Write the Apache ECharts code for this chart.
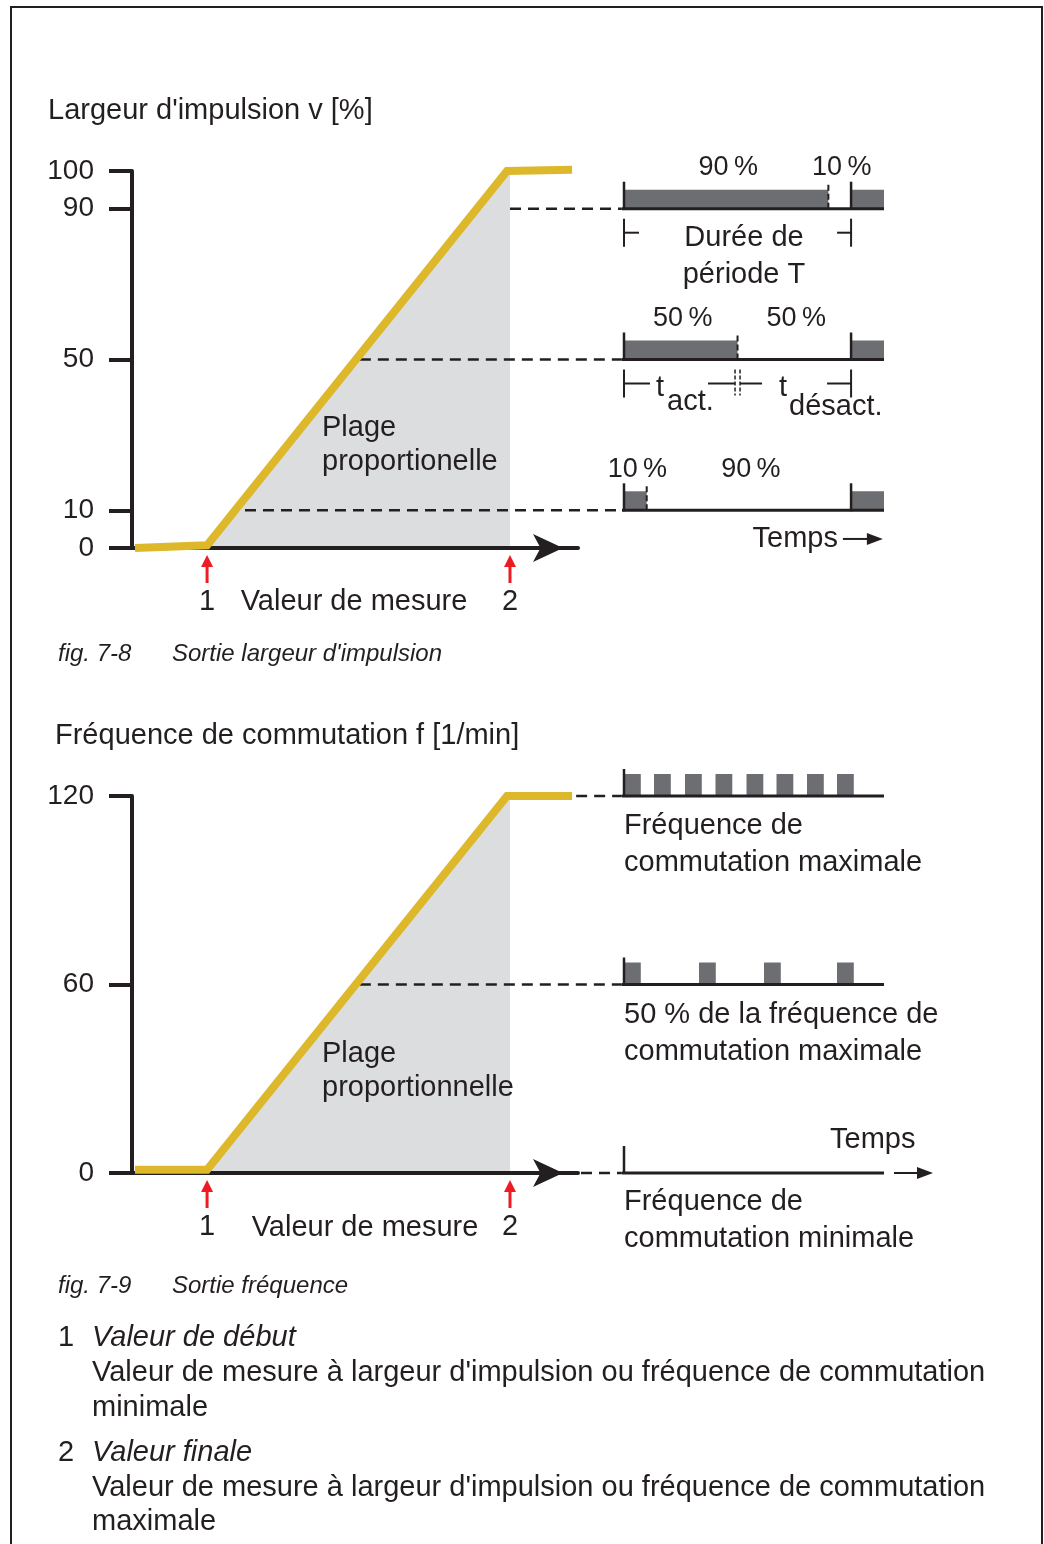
<!DOCTYPE html>
<html>
<head>
<meta charset="utf-8">
<title>Sortie largeur d'impulsion / Sortie fréquence</title>
<script src="https://cdn.jsdelivr.net/npm/echarts@6/dist/echarts.min.js"></script>
<style>
  html, body { margin: 0; padding: 0; background: #fff; }
  #chart { width: 1044px; height: 1544px; }
</style>
</head>
<body>
<div id="chart"></div>
<script>
// ---------- fig. 7-8 : largeur d'impulsion ----------
const pwmTicks = [0, 10, 50, 90, 100];
const pwmCurveX = [0.08, 2.02, 10.09, 11.84];
const pwmCurveY = [0, 0.7, 100, 100.3];
const pwmMarkX = [2.02, 10.17];            // 1 = valeur de début, 2 = valeur finale
const pwmGuideFrom = [10.17, 6.13, 3.04];
const pwmGuideLevel = [90, 50, 10];
const pwmLevels = [90, 50, 10];
const pwmDuty = [9, 5, 1];                 // fin de t_act. (période = 10)
const pwmPeriod = 10;
const pwmTimeMax = 11.45;
const pwmOnLabels = ['90\u2009%', '50\u2009%', '10\u2009%'];
const pwmOffLabels = ['10\u2009%', '50\u2009%', '90\u2009%'];
const pwmTimeArrow = [9.64, 11.4, 2.4];

// ---------- fig. 7-9 : fréquence ----------
const freqTicks = [0, 60, 120];
const freqCurveX = [0.08, 2.02, 10.09, 11.84];
const freqCurveY = [1, 1, 120, 120];
const freqMarkX = [2.02, 10.17];
const freqGuideFrom = [11.95, 6.13, 12.08];
const freqGuideLevel = [120, 60, 0];
const freqLevels = [120, 60, 0];
const freqPulseStarts = [
  [0, 3.0, 6.1, 9.15, 12.25, 15.25, 18.3, 21.3],
  [0, 7.5, 14.0, 21.3],
  []
];
const freqPulseWidth = 1.68;
const freqTimeMax = 26;
const freqTimeArrow = [27.0, 30.9, 0];

const guideEnd = 13.18;   // where the dashed guides meet the pulse diagrams

// ---------- styles ----------
const FONT = "'Liberation Sans', Arial, Helvetica, sans-serif";
const INK = '#231F20';
const GOLD = '#DDB82A';
const SHADE = '#DCDDDF';
const PULSE = '#6D6E71';
const RED = '#ED1C24';
const TEXT_DY = 2;

function seg(x1, y1, x2, y2, w, dash) {
  return { type: 'line', shape: { x1, y1, x2, y2 }, style: { stroke: INK, lineWidth: w, lineDash: dash || null } };
}

function label(text, x, y, size, align, italic) {
  return {
    type: 'text', x, y: y + TEXT_DY, z: 100,
    style: {
      text, fill: INK,
      font: (italic ? 'italic ' : '') + size + 'px ' + FONT,
      align: align || 'left', textAlign: align || 'left',
      verticalAlign: 'middle', textVerticalAlign: 'middle'
    }
  };
}

function renderGuide(params, api) {
  const a = api.coord([api.value(0), api.value(2)]);
  const b = api.coord([api.value(1), api.value(2)]);
  return seg(a[0], a[1], b[0], b[1], 2.5, [11, 7]);
}

function renderMarker(params, api) {
  const p = api.coord([api.value(0), 0]);
  return {
    type: 'group',
    children: [
      { type: 'line', shape: { x1: p[0], y1: p[1] + 17, x2: p[0], y2: p[1] + 35 }, style: { stroke: RED, lineWidth: 3 } },
      { type: 'polygon', shape: { points: [[p[0], p[1] + 7], [p[0] - 6, p[1] + 19], [p[0] + 6, p[1] + 19]] }, style: { fill: RED } }
    ]
  };
}

function renderPwmRow(params, api) {
  const i = params.dataIndex;
  const level = api.value(0);
  const duty = api.value(1);
  const p0 = api.coord([0, level]);
  const pOff = api.coord([duty, level]);
  const pPer = api.coord([pwmPeriod, level]);
  const pEnd = api.coord([pwmTimeMax, level]);
  const y = p0[1];
  const h = 19;
  return {
    type: 'group',
    children: [
      { type: 'rect', shape: { x: p0[0], y: y - h, width: pOff[0] - p0[0], height: h }, style: { fill: PULSE } },
      { type: 'rect', shape: { x: pPer[0], y: y - h, width: pEnd[0] - pPer[0], height: h }, style: { fill: PULSE } },
      seg(p0[0] - 2, y, pEnd[0], y, 3),
      seg(p0[0], y + 1, p0[0], y - 27, 2.5),
      seg(pOff[0], y, pOff[0], y - 27, 2, [6, 3]),
      seg(pPer[0], y + 1, pPer[0], y - 27, 2.5),
      label(pwmOnLabels[i], (p0[0] + pOff[0]) / 2 + 2, y - 43, 27, 'center'),
      label(pwmOffLabels[i], (pOff[0] + pPer[0]) / 2 + 2, y - 43, 27, 'center')
    ]
  };
}

const pwmBrackets = [
  [0, pwmPeriod, pwmLevels[0]],
  [0, pwmDuty[1], pwmLevels[1]],
  [pwmDuty[1], pwmPeriod, pwmLevels[1]]
];
const bracketStubs = [[15, 14], [26, 27], [22, 24]];
const bracketEnds = [['solid', 'solid'], ['solid', 'split'], ['split', 'solid']];

function renderBracket(params, api) {
  const i = params.dataIndex;
  const a = api.coord([api.value(0), api.value(2)]);
  const b = api.coord([api.value(1), api.value(2)]);
  const y = a[1] + 24;
  const ends = bracketEnds[i];
  const stubs = bracketStubs[i];
  let xa = a[0];
  let xb = b[0];
  if (ends[0] === 'split') xa += 2.5;
  if (ends[1] === 'split') xb -= 2.5;
  const tick = (x, kind) => kind === 'split'
    ? seg(x, y - 14, x, y + 12, 1.5, [4, 2])
    : seg(x, y - 14, x, y + 14, 2);
  return {
    type: 'group',
    children: [
      tick(xa, ends[0]), tick(xb, ends[1]),
      seg(xa, y, xa + stubs[0], y, 2),
      seg(xb - stubs[1], y, xb, y, 2)
    ]
  };
}

function renderFreqRow(params, api) {
  const level = api.value(0);
  const starts = freqPulseStarts[params.dataIndex];
  const p0 = api.coord([0, level]);
  const pEnd = api.coord([freqTimeMax, level]);
  const y = p0[1];
  const h = 22;
  const children = starts.map(s => {
    const a = api.coord([s, level]);
    const b = api.coord([s + freqPulseWidth, level]);
    return { type: 'rect', shape: { x: a[0], y: y - h, width: b[0] - a[0], height: h }, style: { fill: PULSE } };
  });
  children.push(seg(p0[0] - 2, y, pEnd[0], y, 3));
  children.push(seg(p0[0], y + 1, p0[0], y - 27, 2.5));
  return { type: 'group', children };
}

function renderTimeArrow(params, api) {
  const a = api.coord([api.value(0), api.value(2)]);
  const b = api.coord([api.value(1), api.value(2)]);
  return {
    type: 'group',
    children: [
      seg(a[0], a[1], b[0] - 12, b[1], 2),
      { type: 'polygon', shape: { points: [[b[0], b[1]], [b[0] - 16, b[1] - 6], [b[0] - 16, b[1] + 6]] }, style: { fill: INK } }
    ]
  };
}

function mainXAxis(gridIndex, marks) {
  return {
    type: 'value', gridIndex, min: 0, max: 12, z: 1,
    axisLine: {
      show: true, onZero: true,
      symbol: ['none', 'arrow'], symbolSize: [21, 30], symbolOffset: [0, -15],
      lineStyle: { color: INK, width: 4 }
    },
    axisTick: { show: false },
    splitLine: { show: false },
    axisLabel: {
      customValues: marks,
      formatter: v => (v < 6 ? '1' : '2'),
      margin: 39, fontSize: 29, fontFamily: FONT, color: INK
    }
  };
}

function mainYAxis(gridIndex, max, ticks) {
  return {
    type: 'value', gridIndex, min: 0, max, z: 1,
    axisLine: { show: true, lineStyle: { color: INK, width: 4 } },
    axisTick: { show: true, customValues: ticks, length: 23, lineStyle: { color: INK, width: 4 } },
    axisLabel: {
      customValues: ticks, margin: 38, fontSize: 28, fontFamily: FONT, color: INK,
      padding: [4, 0, 0, 0]
    },
    splitLine: { show: false }
  };
}

function hiddenAxis(gridIndex, max) {
  return { type: 'value', gridIndex, min: 0, max, show: false, splitLine: { show: false } };
}

function mainSeries(axis, curveX, curveY, marks, guideFrom, guideLevel, top) {
  return [
    {
      type: 'line', xAxisIndex: axis, yAxisIndex: axis, z: 0, silent: true,
      data: [[marks[0], 0], [marks[1], top]],
      symbol: 'none', lineStyle: { width: 0 },
      areaStyle: { color: SHADE, opacity: 1 }
    },
    {
      type: 'custom', xAxisIndex: axis, yAxisIndex: axis, z: 2, clip: false, silent: true,
      data: guideFrom.map((x, i) => [x, guideEnd, guideLevel[i]]),
      renderItem: renderGuide
    },
    {
      type: 'line', xAxisIndex: axis, yAxisIndex: axis, z: 3, clip: false, silent: true,
      data: curveX.map((x, i) => [x, curveY[i]]),
      symbol: 'none',
      lineStyle: { color: GOLD, width: 8, join: 'miter', cap: 'butt' }
    },
    {
      type: 'custom', xAxisIndex: axis, yAxisIndex: axis, z: 3, clip: false, silent: true,
      data: marks.map(x => [x]),
      renderItem: renderMarker
    }
  ];
}

const texts = [
  // fig. 7-8
  label("Largeur d'impulsion v [%]", 48, 109, 29),
  label('Valeur de mesure', 354, 600, 29, 'center'),
  label('Plage', 322, 426, 29),
  label('proportionelle', 322, 460, 29),
  label('fig. 7-8', 58, 652, 24, 'left', true),
  label("Sortie largeur d'impulsion", 172, 652, 24, 'left', true),
  label('Durée de', 744, 236, 29, 'center'),
  label('période T', 744, 273, 29, 'center'),
  label('t', 656, 386, 29),
  label('act.', 667, 400, 29),
  label('t', 779, 386, 29),
  label('désact.', 789, 405, 29),
  label('Temps', 838, 537, 29, 'right'),
  // fig. 7-9
  label('Fréquence de commutation f [1/min]', 55, 734, 29),
  label('Valeur de mesure', 365, 1226, 29, 'center'),
  label('Plage', 322, 1052, 29),
  label('proportionnelle', 322, 1086, 29),
  label('fig. 7-9', 58, 1284, 24, 'left', true),
  label('Sortie fréquence', 172, 1284, 24, 'left', true),
  label('Fréquence de', 624, 824, 29),
  label('commutation maximale', 624, 861, 29),
  label('50 % de la fréquence de', 624, 1013, 29),
  label('commutation maximale', 624, 1050, 29),
  label('Temps', 830, 1138, 29),
  label('Fréquence de', 624, 1200, 29),
  label('commutation minimale', 624, 1237, 29),
  // légende
  label('1', 58, 1336, 29),
  label('Valeur de début', 92, 1336, 29, 'left', true),
  label("Valeur de mesure à largeur d'impulsion ou fréquence de commutation", 92, 1371, 29),
  label('minimale', 92, 1406, 29),
  label('2', 58, 1451, 29),
  label('Valeur finale', 92, 1451, 29, 'left', true),
  label("Valeur de mesure à largeur d'impulsion ou fréquence de commutation", 92, 1486, 29),
  label('maximale', 92, 1520, 29)
];

const chart = echarts.init(document.getElementById('chart'));

chart.setOption({
  backgroundColor: '#fff',
  animation: false,
  textStyle: { fontFamily: FONT, color: INK },
  grid: [
    { left: 132, top: 171, width: 446, height: 377, containLabel: false, outerBoundsMode: 'none' },
    { left: 624, top: 171, width: 260, height: 377, containLabel: false, outerBoundsMode: 'none' },
    { left: 132, top: 796, width: 446, height: 377, containLabel: false, outerBoundsMode: 'none' },
    { left: 624, top: 796, width: 260, height: 377, containLabel: false, outerBoundsMode: 'none' }
  ],
  xAxis: [
    mainXAxis(0, pwmMarkX),
    hiddenAxis(1, pwmTimeMax),
    mainXAxis(2, freqMarkX),
    hiddenAxis(3, freqTimeMax)
  ],
  yAxis: [
    mainYAxis(0, 100, pwmTicks),
    hiddenAxis(1, 100),
    mainYAxis(2, 120, freqTicks),
    hiddenAxis(3, 120)
  ],
  series: [
    ...mainSeries(0, pwmCurveX, pwmCurveY, pwmMarkX, pwmGuideFrom, pwmGuideLevel, 100),
    {
      type: 'custom', xAxisIndex: 1, yAxisIndex: 1, clip: false, silent: true, z: 4,
      data: pwmLevels.map((l, i) => [l, pwmDuty[i]]),
      renderItem: renderPwmRow
    },
    {
      type: 'custom', xAxisIndex: 1, yAxisIndex: 1, clip: false, silent: true, z: 4,
      data: pwmBrackets,
      renderItem: renderBracket
    },
    {
      type: 'custom', xAxisIndex: 1, yAxisIndex: 1, clip: false, silent: true, z: 4,
      data: [pwmTimeArrow],
      renderItem: renderTimeArrow
    },
    ...mainSeries(2, freqCurveX, freqCurveY, freqMarkX, freqGuideFrom, freqGuideLevel, 120),
    {
      type: 'custom', xAxisIndex: 3, yAxisIndex: 3, clip: false, silent: true, z: 4,
      data: freqLevels.map(l => [l]),
      renderItem: renderFreqRow
    },
    {
      type: 'custom', xAxisIndex: 3, yAxisIndex: 3, clip: false, silent: true, z: 4,
      data: [freqTimeArrow],
      renderItem: renderTimeArrow
    }
  ],
  graphic: {
    elements: [
      {
        type: 'rect', z: 100, silent: true,
        shape: { x: 11, y: 7, width: 1031, height: 1600 },
        style: { fill: 'transparent', stroke: INK, lineWidth: 2 }
      },
      ...texts
    ]
  }
});
</script>
</body>
</html>
